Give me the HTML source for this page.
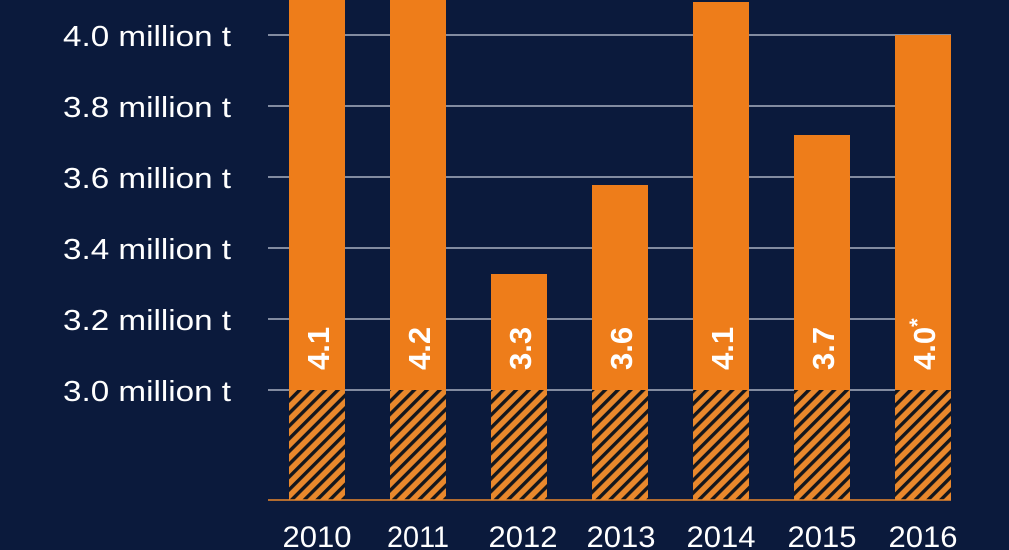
<!DOCTYPE html>
<html><head><meta charset="utf-8"><style>
html,body{margin:0;padding:0;background:#0b1a3c;}
svg{display:block;}
</style></head><body>
<svg width="1009" height="550" viewBox="0 0 1009 550" xmlns="http://www.w3.org/2000/svg">
<defs>
<pattern id="h" patternUnits="userSpaceOnUse" width="9" height="9" patternTransform="rotate(45)">
<rect width="9" height="9" fill="#e9882c"/>
<rect x="0" y="0" width="3.4" height="9" fill="#14161c"/>
</pattern>
</defs>
<rect width="1009" height="550" fill="#0b1a3c"/>
<g stroke="#c9cfdc" stroke-width="1.3">
<line x1="268" y1="35" x2="951" y2="35"/>
<line x1="268" y1="106" x2="951" y2="106"/>
<line x1="268" y1="177" x2="951" y2="177"/>
<line x1="268" y1="248" x2="951" y2="248"/>
<line x1="268" y1="319" x2="951" y2="319"/>
<line x1="268" y1="390" x2="951" y2="390"/>
</g>
<g font-family="Liberation Sans, sans-serif" font-size="29" fill="#ffffff" text-anchor="end" textLength="169">
<text x="231" y="46" textLength="168" lengthAdjust="spacingAndGlyphs">4.0 million t</text>
<text x="231" y="117" textLength="168" lengthAdjust="spacingAndGlyphs">3.8 million t</text>
<text x="231" y="188" textLength="168" lengthAdjust="spacingAndGlyphs">3.6 million t</text>
<text x="231" y="259" textLength="168" lengthAdjust="spacingAndGlyphs">3.4 million t</text>
<text x="231" y="330" textLength="168" lengthAdjust="spacingAndGlyphs">3.2 million t</text>
<text x="231" y="401" textLength="168" lengthAdjust="spacingAndGlyphs">3.0 million t</text>
</g>
<g fill="#ee7d1a">
<rect x="289" y="0" width="56" height="390"/>
<rect x="390" y="0" width="56" height="390"/>
<rect x="491" y="274" width="56" height="116"/>
<rect x="592" y="185" width="56" height="205"/>
<rect x="693" y="2" width="56" height="388"/>
<rect x="794" y="135" width="56" height="255"/>
<rect x="895" y="35" width="56" height="355"/>
</g>
<g fill="url(#h)">
<rect x="289" y="390" width="56" height="110"/>
<rect x="390" y="390" width="56" height="110"/>
<rect x="491" y="390" width="56" height="110"/>
<rect x="592" y="390" width="56" height="110"/>
<rect x="693" y="390" width="56" height="110"/>
<rect x="794" y="390" width="56" height="110"/>
<rect x="895" y="390" width="56" height="110"/>
</g>
<line x1="268" y1="500" x2="951" y2="500" stroke="#e9882c" stroke-width="1.5"/>
<g font-family="Liberation Sans, sans-serif" font-size="31" font-weight="bold" fill="#ffffff">
<text transform="translate(329,370) rotate(-90)">4.1</text>
<text transform="translate(430,370) rotate(-90)">4.2</text>
<text transform="translate(531,370) rotate(-90)">3.3</text>
<text transform="translate(632,370) rotate(-90)">3.6</text>
<text transform="translate(733,370) rotate(-90)">4.1</text>
<text transform="translate(834,370) rotate(-90)">3.7</text>
<text transform="translate(935,370) rotate(-90)">4.0<tspan font-size="22" dy="-10">*</tspan></text>
</g>
<g font-family="Liberation Sans, sans-serif" font-size="30" fill="#ffffff" text-anchor="middle">
<text x="317" y="547" textLength="69" lengthAdjust="spacingAndGlyphs">2010</text>
<text x="418" y="547" textLength="62" lengthAdjust="spacingAndGlyphs">2011</text>
<text x="523" y="547" textLength="69" lengthAdjust="spacingAndGlyphs">2012</text>
<text x="621" y="547" textLength="69" lengthAdjust="spacingAndGlyphs">2013</text>
<text x="721" y="547" textLength="69" lengthAdjust="spacingAndGlyphs">2014</text>
<text x="822" y="547" textLength="69" lengthAdjust="spacingAndGlyphs">2015</text>
<text x="923" y="547" textLength="69" lengthAdjust="spacingAndGlyphs">2016</text>
</g>
</svg>
</body></html>
